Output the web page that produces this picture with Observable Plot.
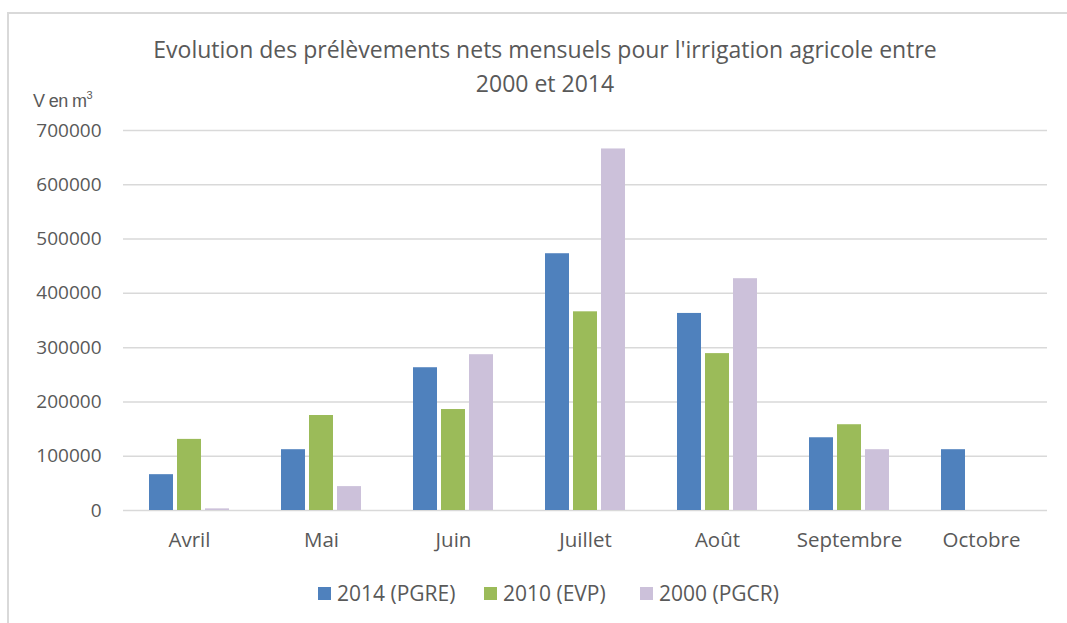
<!DOCTYPE html>
<html>
<head>
<meta charset="utf-8">
<script src="https://cdn.jsdelivr.net/npm/d3@7"></script>
<script src="https://cdn.jsdelivr.net/npm/@observablehq/plot@0.6"></script>
<style>
  html, body { margin: 0; padding: 0; background: #fff; }
  #page { position: relative; width: 1067px; height: 623px; overflow: hidden; font-family: "Open Sans", sans-serif; color: #595959; }
  #frame { position: absolute; left: 7px; top: 12px; width: 1100px; height: 700px; border-left: 2px solid #d9d9d9; border-top: 2px solid #d9d9d9; }
  #title { position: absolute; left: 0; top: 32px; width: 1090px; text-align: center; font-size: 23px; line-height: 34px; color: #595959; }
  #ylabel { position: absolute; left: 33px; top: 89px; font-family: "Liberation Sans", Arial, sans-serif; font-size: 18px; color: #595959; letter-spacing: -0.6px; }
  #ylabel sup { font-size: 11px; vertical-align: 8px; }
  #chart { position: absolute; left: 0; top: 110px; }
  #legend { position: absolute; left: 318px; top: 578px; display: flex; font-size: 21px; line-height: 30px; }
  #legend .item { display: flex; align-items: center; gap: 6px; }
  #legend .item:nth-child(1) { width: 166px; }
  #legend .item:nth-child(2) { width: 156px; }
  #legend .sw { width: 13px; height: 13px; display: inline-block; }
</style>
</head>
<body>
<div id="page">
  <div id="frame"></div>
  <div id="title">Evolution des prélèvements nets mensuels pour l'irrigation agricole entre<br>2000 et 2014</div>
  <div id="ylabel">V en m<sup>3</sup></div>
  <div id="chart"></div>
  <div id="legend"></div>
</div>
<script>
const months = ["Avril", "Mai", "Juin", "Juillet", "Août", "Septembre", "Octobre"];
const seriesNames = ["2014 (PGRE)", "2010 (EVP)", "2000 (PGCR)"];
const seriesColors = ["#4F81BD", "#9BBB59", "#CCC1DA"];
const values2014 = [66000, 112000, 263000, 473000, 363000, 134000, 112000];
const values2010 = [131000, 175000, 186000, 366000, 289000, 158000, 0];
const values2000 = [3000, 44000, 287000, 666000, 427000, 112000, 0];
const yTicks = [0, 100000, 200000, 300000, 400000, 500000, 600000, 700000];

const allValues = [values2014, values2010, values2000];
const data = [];
months.forEach((m, i) => {
  seriesNames.forEach((s, j) => {
    data.push({month: m, series: s, value: allValues[j][i]});
  });
});

const chart = Plot.plot({
  width: 1067,
  height: 460,
  marginTop: 20,
  marginBottom: 60,
  marginLeft: 120,
  marginRight: 17,
  style: {fontFamily: "Open Sans, sans-serif", fontSize: "19px", color: "#595959", background: "transparent"},
  fx: {domain: months, padding: 0, label: null, tickSize: 0, tickPadding: 22, axis: "bottom"},
  x: {domain: seriesNames, paddingInner: 0.15, paddingOuter: 0.875, axis: null},
  y: {domain: [0, 700000], ticks: yTicks, tickSize: 0, tickPadding: 22, tickFormat: d => String(d), label: null},
  color: {domain: seriesNames, range: seriesColors},
  marks: [
    Plot.ruleY(yTicks, {stroke: "#d9d9d9", strokeWidth: 1.5}),
    Plot.barY(data, {fx: "month", x: "series", y: "value", fill: "series"})
  ]
});
chart.querySelectorAll('[aria-label="fx-axis tick label"] text').forEach(t => t.style.fontSize = "20.5px");
document.getElementById("chart").appendChild(chart);

const legend = document.getElementById("legend");
seriesNames.forEach((s, i) => {
  const item = document.createElement("div");
  item.className = "item";
  const sw = document.createElement("span");
  sw.className = "sw";
  sw.style.background = seriesColors[i];
  const label = document.createElement("span");
  label.textContent = s;
  item.appendChild(sw);
  item.appendChild(label);
  legend.appendChild(item);
});
</script>
</body>
</html>
